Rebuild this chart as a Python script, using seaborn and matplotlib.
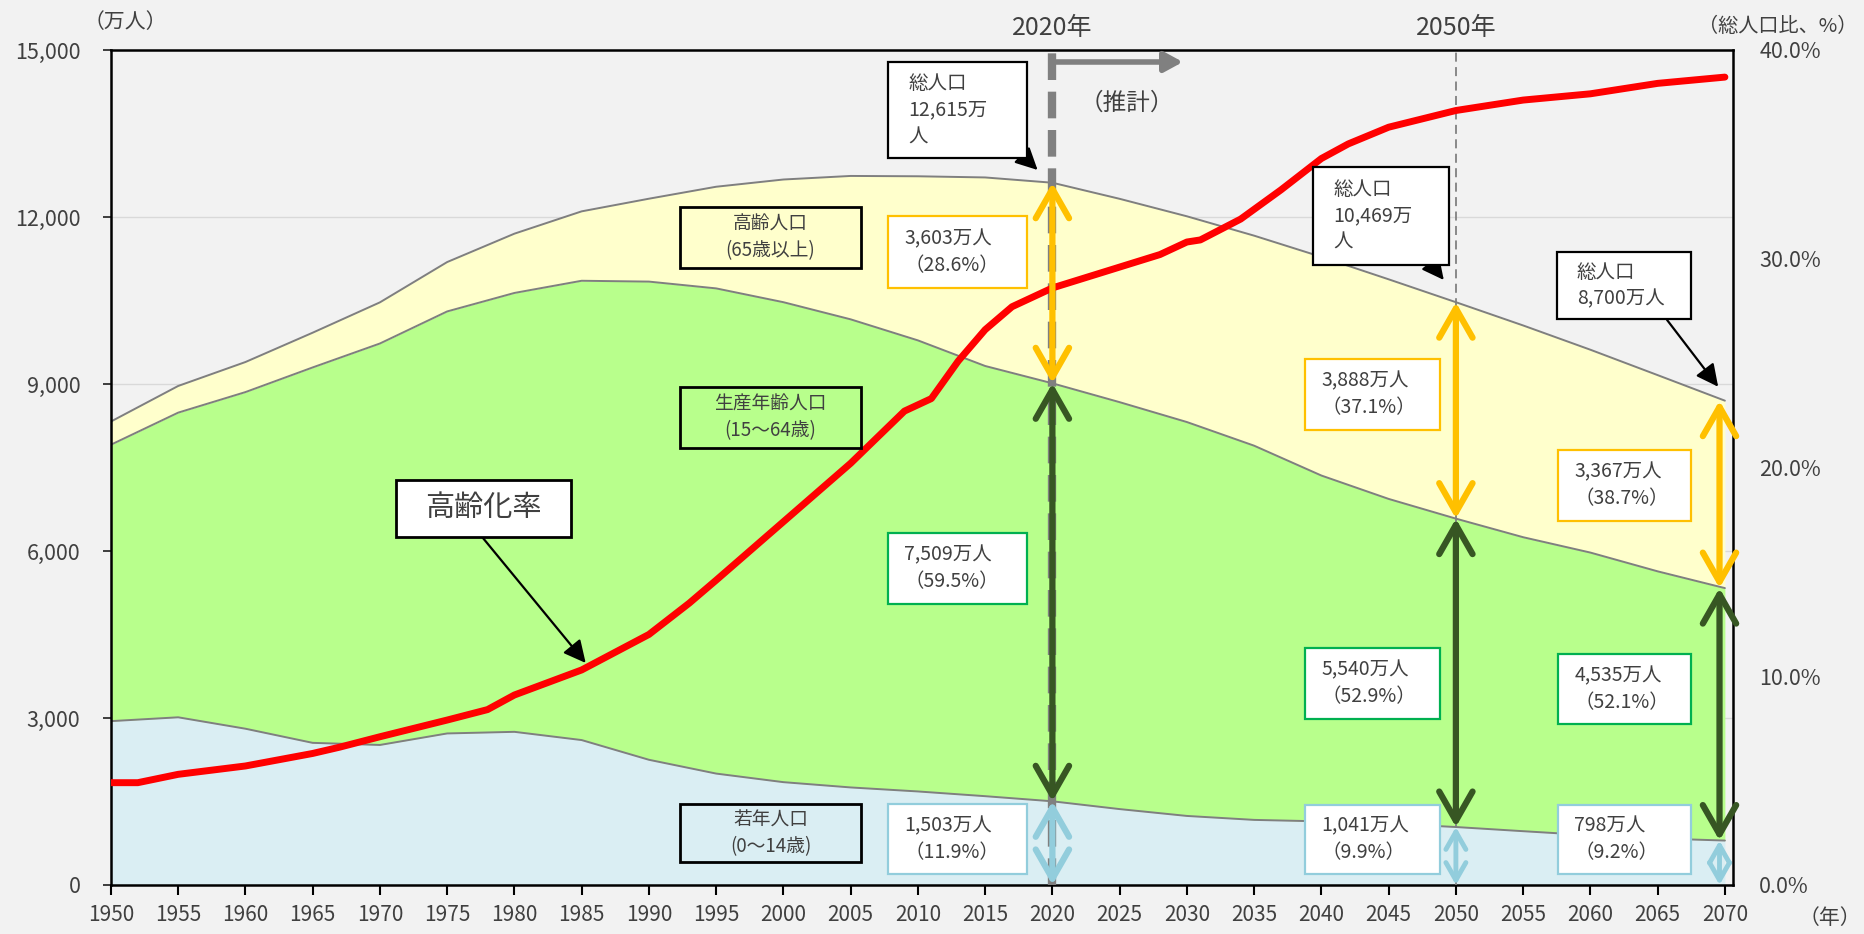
import pandas as pd
import seaborn as sns
import matplotlib.pyplot as plt
from matplotlib import font_manager
from matplotlib.patches import Rectangle
from matplotlib.ticker import FuncFormatter

# 日本の人口推移（万人）
years = list(range(1950, 2071, 5))
pop_0_14 = [2943, 3012, 2807, 2553, 2515, 2722, 2751, 2603, 2249, 2001, 1847, 1752, 1680,
            1595, 1503, 1363, 1240, 1169, 1142, 1103, 1041, 966, 893, 836, 798]
pop_15_64 = [4966, 5473, 6047, 6744, 7212, 7581, 7884, 8251, 8590, 8716, 8622, 8409, 8103,
             7728, 7509, 7310, 7076, 6722, 6213, 5832, 5540, 5281, 5078, 4798, 4535]
pop_65 = [416, 479, 540, 624, 739, 887, 1065, 1247, 1489, 1826, 2204, 2576, 2948,
          3387, 3603, 3653, 3696, 3773, 3928, 3945, 3888, 3804, 3644, 3525, 3367]

# 高齢化率（%）: 図から読み取り
rate_years = [1950, 1952, 1955, 1960, 1965, 1967, 1970, 1975, 1978, 1980, 1985, 1990, 1993,
              1995, 2000, 2005, 2009, 2011, 2013, 2015, 2017, 2020, 2025, 2028, 2030, 2031,
              2034, 2037, 2040, 2042, 2045, 2050, 2055, 2060, 2065, 2070]
aging_rate = [4.9, 4.9, 5.3, 5.7, 6.3, 6.6, 7.1, 7.9, 8.4, 9.1, 10.3, 12.0, 13.5,
              14.6, 17.4, 20.2, 22.7, 23.3, 25.1, 26.6, 27.7, 28.6, 29.6, 30.2, 30.8, 30.9,
              31.9, 33.3, 34.8, 35.5, 36.3, 37.1, 37.6, 37.9, 38.4, 38.7]

highlight_years = [2020, 2050, 2070]
x_ticks = list(range(1950, 2071, 5))
y_ticks = [0, 3000, 6000, 9000, 12000, 15000]
pct_ticks = [0, 10, 20, 30, 40]

df = pd.DataFrame({"year": years, "young": pop_0_14, "work": pop_15_64, "old": pop_65})
df["c1"] = df["young"]
df["c2"] = df["young"] + df["work"]
df["total"] = df["c2"] + df["old"]
rate_df = pd.DataFrame({"year": rate_years, "rate": aging_rate})

sns.set_theme(style="white")
plt.rcParams["font.family"] = ["Noto Sans CJK JP", "DejaVu Sans"]
installed = {f.name for f in font_manager.fontManager.ttflist}
narrow = "Liberation Sans Narrow" in installed

BG = "#f2f2f2"
TXT = "#404040"
YELLOW, GREEN, BLUE = "#ffffcc", "#b8ff8c", "#daeef3"
C_OLD, C_WORK, C_YOUNG = "#ffc000", "#375623", "#92cddc"
B_OLD, B_WORK, B_YOUNG = "#ffc000", "#00b050", "#92cddc"

fig = plt.figure(figsize=(18.64, 9.34), dpi=100, facecolor=BG)
ax = fig.add_axes([0.0595, 0.0525, 0.8702, 0.894])
ax.set_facecolor(BG)

ax.fill_between(df["year"], 0, df["c1"], color=BLUE, lw=0, zorder=1)
ax.fill_between(df["year"], df["c1"], df["c2"], color=GREEN, lw=0, zorder=1)
ax.fill_between(df["year"], df["c2"], df["total"], color=YELLOW, lw=0, zorder=1)
for col in ["c1", "c2", "total"]:
    sns.lineplot(data=df, x="year", y=col, color="#7f7f7f", lw=1.4, ax=ax, zorder=2)

ax.set_xlim(1950, 2070.6)
ax.set_ylim(0, 15000)
ax.set_xticks(x_ticks)
ax.set_yticks(y_ticks)
ax.yaxis.set_major_formatter(FuncFormatter(lambda v, p: f"{int(v):,}"))
ax.grid(axis="y", color="#d9d9d9", lw=1)
ax.set_axisbelow(True)
ax.set_xlabel("")
ax.set_ylabel("")
xfont = "Liberation Sans Narrow" if narrow else "Noto Sans CJK JP"
ax.set_xticklabels([str(y) for y in x_ticks], fontfamily=xfont,
                   fontsize=18 if narrow else 15, color=TXT)
ax.tick_params(axis="x", bottom=True, length=7, width=1.5, color="black", pad=7)
ax.tick_params(axis="y", left=False, pad=16, labelsize=15.5, labelcolor=TXT)
for s in ax.spines.values():
    s.set_color("black")
    s.set_linewidth(1.8)

# 推計の境界線
ax.plot([2020, 2020], [0, 15000], color="#808080", lw=6, dashes=(3.2, 1.4),
        solid_capstyle="butt", zorder=3)
ax.plot([2050, 2050], [0, 15000], color="#808080", lw=1.3, dashes=(5, 3), zorder=3)

# 高齢化率（右軸）
ax2 = ax.twinx()
sns.lineplot(data=rate_df, x="year", y="rate", color="#ff0000", lw=5, ax=ax2, zorder=3)
ax2.set_ylim(0, 40)
ax2.set_yticks(pct_ticks)
ax2.yaxis.set_major_formatter(FuncFormatter(lambda v, p: f"{v:.1f}%"))
ax2.tick_params(axis="y", right=False, pad=13, labelsize=15.5, labelcolor=TXT)
ax2.set_ylabel("")
ax2.grid(False)
for s in ax2.spines.values():
    s.set_visible(False)

T = ax.transData


def box(x0, x1, y0, y1, edge, face="white", lw=1.6):
    ax2.add_patch(Rectangle((x0, y0), x1 - x0, y1 - y0, transform=T, facecolor=face,
                            edgecolor=edge, lw=lw, zorder=6, clip_on=False))


def label(x, y, s, size=14, ha="left", **kw):
    ax2.text(x, y, s, transform=T, ha=ha, va="center", fontsize=size, color=TXT,
             linespacing=1.35, zorder=7, clip_on=False, **kw)


def arrow(x0, y0, x1, y1, color, style, lw, scale=15):
    ax2.annotate("", xy=(x1, y1), xytext=(x0, y0), xycoords=T, textcoords=T,
                 arrowprops=dict(arrowstyle=style, color=color, lw=lw, shrinkA=0,
                                 shrinkB=0, mutation_scale=scale), zorder=5)


# 縦の両矢印
dbl = "<->,head_length=1.4,head_width=0.8"
for yr in highlight_years:
    r = df[df["year"] == yr].iloc[0]
    xa = yr - 0.4 if yr == 2070 else yr
    arrow(xa, r["c2"], xa, r["total"], C_OLD, dbl, 4.5)
    arrow(xa, r["c1"], xa, r["c2"], C_WORK, dbl, 4.5)
    arrow(xa, 0, xa, r["c1"], C_YOUNG, dbl, 4.5 if r["c1"] > 1200 else 3.5,
          15 if r["c1"] > 1200 else 9)

# 値ボックス
cols = {2020: (2007.8, 2018.1), 2050: (2038.8, 2048.8), 2070: (2057.6, 2067.5)}
rows = {2020: [(10724, 12017), (5048, 6323), (198, 1455)],
        2050: [(8173, 9448), (2982, 4257), (198, 1437)],
        2070: [(6539, 7814), (2892, 4150), (198, 1437)]}
for yr in highlight_years:
    r = df[df["year"] == yr].iloc[0]
    x0, x1 = cols[yr]
    for (y0, y1), key, edge in zip(rows[yr], ["old", "work", "young"], [B_OLD, B_WORK, B_YOUNG]):
        box(x0, x1, y0, y1, edge)
        label(x0 + 1.2, (y0 + y1) / 2,
              f"{int(r[key]):,}万人\n（{r[key] / r['total'] * 100:.1f}%）")

# 総人口ボックス
head = "-|>,head_length=0.9,head_width=0.45"
box(2007.8, 2018.1, 13059, 14784, "black")
label(2009.3, 13920, "総人口\n12,615万\n人")
arrow(2016.2, 13473, 2018.9, 12844, "black", head, 1.6)
box(2039.4, 2049.5, 11137, 12898, "black")
label(2040.9, 12020, "総人口\n10,469万\n人")
arrow(2046.6, 11640, 2049.1, 10868, "black", head, 1.6)
box(2057.5, 2067.5, 10170, 11370, "black")
label(2059.0, 10770, "総人口\n8,700万人")
arrow(2065.7, 10150, 2069.5, 8950, "black", head, 1.6)

# 区分ラベル
box(1992.3, 2005.8, 11083, 12179, "black", face=YELLOW, lw=2)
label(1999.05, 11631, "高齢人口\n(65歳以上)", size=13.5, ha="center")
box(1992.3, 2005.8, 7850, 8946, "black", face=GREEN, lw=2)
label(1999.05, 8398, "生産年齢人口\n(15～64歳)", size=13.5, ha="center")
box(1992.3, 2005.8, 413, 1455, "black", face=BLUE, lw=2)
label(1999.05, 934, "若年人口\n(0～14歳)", size=13.5, ha="center")
box(1971.2, 1984.2, 6251, 7275, "black", lw=2)
label(1977.7, 6763, "高齢化率", size=21, ha="center")
arrow(1977.6, 6251, 1985.3, 3988, "black", head, 1.6)

# 推計の矢印
arrow(2020.3, 14784, 2029.7, 14784, "#808080", "-|>,head_length=1.1,head_width=0.6", 4, 10)
label(2025.5, 14047, "（推計）", size=17, ha="center")
label(2020, 15394, "2020年", size=18, ha="center")
label(2050, 15394, "2050年", size=18, ha="center")

fig.text(125 / 1864, 1 - 22 / 934, "（万人）", ha="center", va="center", fontsize=15, color=TXT)
fig.text(1857 / 1864, 1 - 26 / 934, "（総人口比、%）", ha="right", va="center", fontsize=14.5,
         color=TXT)
fig.text(1830 / 1864, 1 - 918 / 934, "（年）", ha="center", va="center", fontsize=15, color=TXT)

fig.savefig("out.png", dpi=100, facecolor=BG)
